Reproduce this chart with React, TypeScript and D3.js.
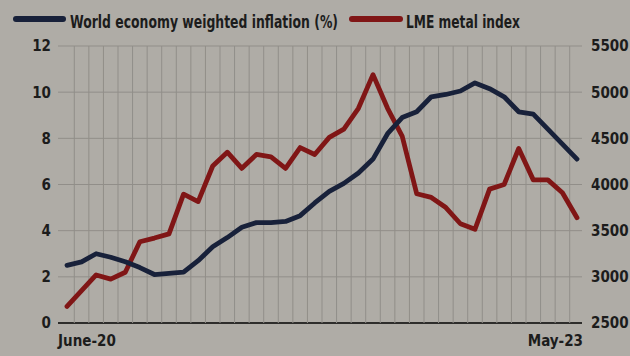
import React from "react";
import * as d3 from "d3";

const months: string[] = Array.from({ length: 36 }, (_, i) => {
  const d = new Date(2020, 5 + i, 1);
  return d3.timeFormat("%b-%y")(d);
});
const inflation: number[] = [
  2.5, 2.65, 3.0, 2.85, 2.65, 2.4, 2.1, 2.15, 2.2, 2.7, 3.3, 3.7,
  4.15, 4.35, 4.35, 4.4, 4.65, 5.2, 5.7, 6.05, 6.5, 7.1, 8.2, 8.9,
  9.15, 9.8, 9.9, 10.05, 10.4, 10.15, 9.8, 9.15, 9.05, 8.4, 7.75, 7.1,
];
const lme: number[] = [
  2680, 2850, 3020, 2975, 3050, 3380, 3420, 3465, 3895, 3815, 4200, 4350,
  4175, 4325, 4300, 4175, 4400, 4325, 4510, 4600, 4825, 5190, 4825, 4525,
  3900, 3860, 3750, 3575, 3515, 3950, 4000, 4390, 4050, 4050, 3910, 3640,
];
const leftTicks: number[] = [0, 2, 4, 6, 8, 10, 12];
const rightTicks: number[] = [2500, 3000, 3500, 4000, 4500, 5000, 5500];
const xLabels: string[] = ["June-20", "May-23"];
const legendLabels: string[] = ["World economy weighted inflation (%)", "LME metal index"];

const W = 630;
const H = 356;
const BG = "#afaca6";
const BLUE = "#18213a";
const RED = "#801616";
const GRID = "#918e89";
const FONT = "'DejaVu Sans Condensed', 'Liberation Sans Narrow', sans-serif";
const NARROW = "'Liberation Sans Narrow', 'DejaVu Sans Condensed', sans-serif";

export default function App() {
  const x = d3.scaleLinear().domain([0, months.length - 1]).range([67, 577]);
  const yL = d3.scaleLinear().domain([0, 12]).range([323, 46]);
  const yR = d3.scaleLinear().domain([2500, 5500]).range([323, 46]);
  const plotLeft = 58;
  const plotRight = 582;

  const lineL = d3
    .line<number>()
    .x((_, i) => x(i))
    .y((d) => yL(d))
    .curve(d3.curveLinear);
  const lineR = d3
    .line<number>()
    .x((_, i) => x(i))
    .y((d) => yR(d))
    .curve(d3.curveLinear);

  const vGrid = d3.range(months.length - 1).map((i) => x(i + 0.5));

  return (
    <svg
      width={W}
      height={H}
      style={{ position: "absolute", left: 0, top: 0 }}
      fontFamily={FONT}
    >
      <rect width={W} height={H} fill={BG} />
      {/* grid */}
      {leftTicks.map((t) => (
        <line
          key={"h" + t}
          x1={plotLeft}
          x2={plotRight}
          y1={yL(t)}
          y2={yL(t)}
          stroke={t === 0 ? "#2e2d2b" : GRID}
          strokeWidth={t === 0 ? 1.8 : 1}
        />
      ))}
      {vGrid.map((gx, i) => (
        <line
          key={"v" + i}
          x1={gx}
          x2={gx}
          y1={yL(12)}
          y2={yL(0)}
          stroke={GRID}
          strokeWidth={1}
        />
      ))}
      {/* left ticks */}
      {leftTicks.map((t) => (
        <text
          key={"l" + t}
          x={51}
          y={yL(t)}
          dy="0.36em"
          textAnchor="end"
          fontSize={15}
          fontWeight="bold"
          fill="#1c1c1c"
        >
          {t}
        </text>
      ))}
      {rightTicks.map((t) => (
        <text
          key={"r" + t}
          x={591}
          y={yR(t)}
          dy="0.36em"
          textAnchor="start"
          fontSize={15}
          fontWeight="bold"
          fill="#1c1c1c"
        >
          {t}
        </text>
      ))}
      {/* x labels */}
      <text x={58} y={346} fontSize={15} fontWeight="bold" fill="#1c1c1c">
        {xLabels[0]}
      </text>
      <text x={583} y={346} textAnchor="end" fontSize={15} fontWeight="bold" fill="#1c1c1c">
        {xLabels[1]}
      </text>
      {/* lines */}
      <path
        d={lineR(lme) || ""}
        fill="none"
        stroke={RED}
        strokeWidth={4.8}
        strokeLinejoin="round"
        strokeLinecap="round"
      />
      <path
        d={lineL(inflation) || ""}
        fill="none"
        stroke={BLUE}
        strokeWidth={4.8}
        strokeLinejoin="round"
        strokeLinecap="round"
      />
      {/* legend */}
      <line x1={16} x2={63} y1={19} y2={19} stroke={BLUE} strokeWidth={6} strokeLinecap="round" />
      <text
        x={70}
        y={28}
        fontSize={17}
        fontFamily={NARROW}
        fontWeight="bold"
        fill="#1c1c1c"
        textLength={268}
        lengthAdjust="spacingAndGlyphs"
      >
        {legendLabels[0]}
      </text>
      <line x1={352} x2={400} y1={19} y2={19} stroke={RED} strokeWidth={6} strokeLinecap="round" />
      <text
        x={406}
        y={28}
        fontSize={17}
        fontFamily={NARROW}
        fontWeight="bold"
        fill="#1c1c1c"
        textLength={114}
        lengthAdjust="spacingAndGlyphs"
      >
        {legendLabels[1]}
      </text>
    </svg>
  );
}
